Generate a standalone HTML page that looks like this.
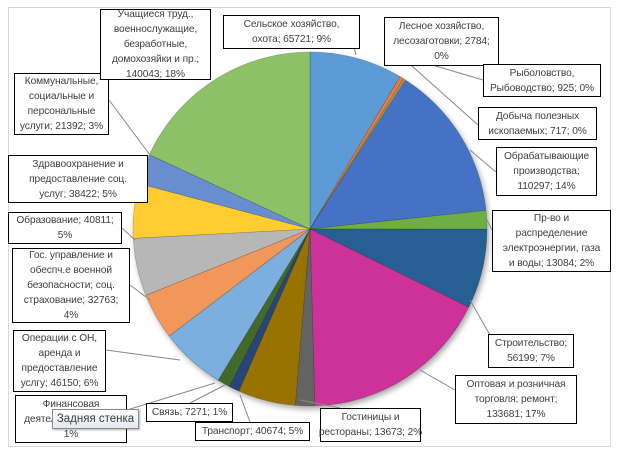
<!DOCTYPE html>
<html><head><meta charset="utf-8"><style>
body{margin:0;background:#fff;width:619px;height:455px;overflow:hidden;position:relative;font-family:"Liberation Sans",sans-serif}
#frame{position:absolute;left:8px;top:7px;width:601px;height:438px;border:1px solid #d9d9d9}
.lb{position:absolute;background:#fff;border:1px solid #000;color:#404040;font-size:10.2px;line-height:15px;text-align:center;box-sizing:border-box;display:flex;align-items:center;justify-content:center;white-space:nowrap;letter-spacing:-0.1px}
#tip{position:absolute;left:52px;top:409px;width:87px;height:20px;border:1px solid #8a8a8a;background:linear-gradient(#fff,#e4e8f0);font-size:11.5px;color:#3c3c3c;line-height:18px;text-align:center;box-sizing:border-box;box-shadow:1px 1px 2px rgba(0,0,0,.3)}
svg{position:absolute;left:0;top:0}
</style></head><body>
<div id="frame"></div>
<svg id="s" width="619" height="455"></svg>
<div class="lb" style="left:223px;top:15px;width:137px;height:34px">Сельское хозяйство,<br>охота; 65721; 9%</div>
<div class="lb" style="left:384px;top:17px;width:115px;height:49px">Лесное хозяйство,<br>лесозаготовки; 2784;<br>0%</div>
<div class="lb" style="left:483px;top:64px;width:118px;height:33px">Рыболовство,<br>Рыбоводство; 925; 0%</div>
<div class="lb" style="left:478px;top:107px;width:119px;height:33px">Добыча полезных<br>ископаемых; 717; 0%</div>
<div class="lb" style="left:496px;top:147px;width:101px;height:49px">Обрабатывающие<br>производства;<br>110297; 14%</div>
<div class="lb" style="left:492px;top:210px;width:119px;height:62px">Пр-во и<br>распределение<br>электроэнергии, газа<br>и воды; 13084; 2%</div>
<div class="lb" style="left:488px;top:334px;width:86px;height:34px">Строительство;<br>56199; 7%</div>
<div class="lb" style="left:455px;top:375px;width:122px;height:49px">Оптовая и розничная<br>торговля; ремонт;<br>133681; 17%</div>
<div class="lb" style="left:320px;top:408px;width:101px;height:34px">Гостиницы и<br>рестораны; 13673; 2%</div>
<div class="lb" style="left:195px;top:422px;width:115px;height:19px">Транспорт; 40674; 5%</div>
<div class="lb" style="left:146px;top:403px;width:87px;height:19px">Связь; 7271; 1%</div>
<div class="lb" style="left:15px;top:395px;width:112px;height:48px">Финансовая<br>деятельность; 9000;<br>1%</div>
<div class="lb" style="left:13px;top:330px;width:93px;height:62px">Операции с ОН,<br>аренда и<br>предоставление<br>услгу; 46150; 6%</div>
<div class="lb" style="left:12px;top:248px;width:118px;height:75px">Гос. управление и<br>обеспч.е военной<br>безопасности; соц.<br>страхование; 32763;<br>4%</div>
<div class="lb" style="left:8px;top:212px;width:114px;height:32px">Образование; 40811;<br>5%</div>
<div class="lb" style="left:8px;top:155px;width:140px;height:48px">Здравоохранение и<br>предоставление соц.<br>услуг; 38422; 5%</div>
<div class="lb" style="left:14px;top:73px;width:95px;height:62px">Коммунальные,<br>социальные и<br>персональные<br>услуги; 21392; 3%</div>
<div class="lb" style="left:100px;top:9px;width:111px;height:71px">Учащиеся труд.,<br>военнослужащие,<br>безработные,<br>домохозяйки и пр.;<br>140043; 18%</div>
<div id="tip">Задняя стенка</div>
<script>
var d=[[65721,"#5b9bd5"],[2784,"#ed7d31"],[925,"#a5a5a5"],[717,"#ffc000"],[110297,"#4472c4"],[13084,"#70ad47"],[56199,"#255e91"],[133681,"#cc3399"],[13673,"#636363"],[40674,"#997300"],[7271,"#264478"],[9000,"#43682b"],[46150,"#7cafdd"],[32763,"#f1975a"],[40811,"#b7b7b7"],[38422,"#ffcd33"],[21392,"#698ed0"],[140043,"#8cc168"]];
var tot=d.reduce(function(a,b){return a+b[0]},0),cx=310,cy=229,r=177,a=-Math.PI/2,h='<defs><filter id="f"><feDropShadow dx="2" dy="3" stdDeviation="3" flood-opacity=".35"/></filter></defs><g filter="url(#f)">';
d.forEach(function(e){var b=a+e[0]/tot*2*Math.PI,x1=cx+r*Math.cos(a),y1=cy+r*Math.sin(a),x2=cx+r*Math.cos(b),y2=cy+r*Math.sin(b);
h+='<path d="M'+cx+','+cy+'L'+x1+','+y1+'A'+r+','+r+' 0 '+((b-a)>Math.PI?1:0)+' 1 '+x2+','+y2+'Z" fill="'+e[1]+'" stroke="rgba(0,0,0,.25)" stroke-width=".6"/>';a=b;});
h+='</g><g stroke="#888" stroke-width="1" fill="none">';
var L=[[350,32,356,55],[420,66,400,56],[483,80,402,56],[478,125,403,58],[496,172,470,150],[492,230,487,220],[490,335,470,300],[455,390,420,370],[340,408,300,400],[250,422,240,395],[190,403,225,385],[127,410,215,383],[106,350,180,360],[130,285,150,300],[122,228,135,240],[148,180,140,190],[109,100,150,155],[200,60,205,70]];
L.forEach(function(l){h+='<line x1="'+l[0]+'" y1="'+l[1]+'" x2="'+l[2]+'" y2="'+l[3]+'"/>'});
document.getElementById('s').innerHTML=h+'</g>';
</script>
</body></html>
